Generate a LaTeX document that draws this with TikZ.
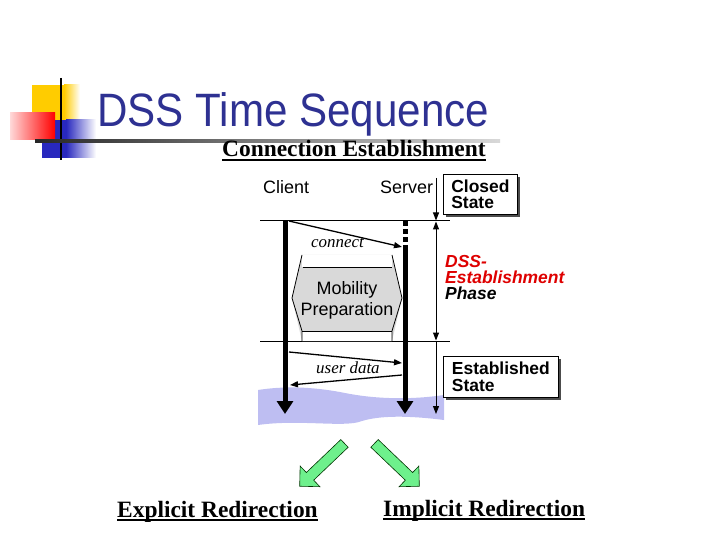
\documentclass[tikz,border=0pt]{standalone}
\usepackage{fontspec}
\setmainfont{Liberation Serif}
\setsansfont{Liberation Sans}
\newfontfamily\titlefont[FakeStretch=0.9]{Liberation Sans}
\usetikzlibrary{arrows.meta,shapes.arrows,shadows}

\definecolor{titleblue}{RGB}{46,49,146}
\definecolor{bandblue}{RGB}{190,190,242}
\definecolor{prepgray}{RGB}{217,217,217}
\definecolor{phasered}{RGB}{222,0,0}
\definecolor{arrowgreen}{RGB}{110,240,140}
\definecolor{logoyellow}{RGB}{255,204,0}
\definecolor{logoblue}{RGB}{40,40,190}

\begin{document}
\begin{tikzpicture}[x=1bp, y=-1bp,
    lbl/.style={inner sep=0pt, anchor=base west, font=\sffamily\fontsize{18}{21}\selectfont},
    msg/.style={inner sep=0pt, anchor=base west, font=\itshape\fontsize{17}{20}\selectfont},
    heading/.style={inner sep=0pt, anchor=base west, font=\bfseries\fontsize{23.5}{26}\selectfont},
    statebox/.style={draw, fill=white, line width=0.8bp, anchor=north west, align=left,
        inner xsep=7bp, inner ysep=0pt, font=\sffamily\bfseries\fontsize{17.5}{16.5}\selectfont,
        drop shadow={shadow xshift=2.5bp, shadow yshift=-2.5bp, fill=black!70, opacity=1}},
    life/.style={line width=5bp, -{Triangle[width=16bp,length=13bp]}},
    msgarrow/.style={line width=1.3bp, -{Triangle[width=6bp,length=8bp]}},
    tline/.style={line width=1bp, >={Triangle[width=6bp,length=8bp]}},
    bigarrow/.style={single arrow, draw=black!80!green, fill=arrowgreen, line width=0.6bp,
        inner sep=5bp, single arrow head extend=9bp, minimum height=62bp}]
    \useasboundingbox (0,0) rectangle (720,540);

    % logo in the corner
    \fill[logoyellow] (32,85) rectangle (64,120);
    \shade[left color=logoyellow, right color=white] (64,85) rectangle (80,120);
    \fill[logoblue] (42,120) rectangle (66,158);
    \shade[left color=logoblue, right color=white] (66,120) rectangle (96,158);
    \shade[left color=red!15, right color=red] (10,113) rectangle (55,140);
    \draw[line width=2bp] (61,78) -- (61,160);
    \shade[left color=black!85, right color=black!15] (35,140) rectangle (500,142.5);

    % title and heading
    \node[inner sep=0pt, anchor=base west, text=titleblue, font=\titlefont\fontsize{47}{50}\selectfont] (title) at (97,127) {DSS Time Sequence};
    \node[heading] (conn) at (222,157) {Connection Establishment};
    \draw[line width=1.5bp] ([yshift=-3bp]conn.base west) -- ([yshift=-3bp]conn.base east);

    % water band behind the lifelines
    \fill[bandblue] (258,390) .. controls (290,385) and (320,388) .. (345,393)
        .. controls (375,399) and (410,400) .. (444,395) -- (444,420)
        .. controls (420,417) and (385,414) .. (362,421)
        .. controls (345,428) and (300,419) .. (258,425) -- cycle;

    % client and server lifelines
    \node[lbl] (client) at (263,194) {Client};
    \node[lbl] (server) at (380,194) {Server};
    \coordinate (ctop) at (285,221);
    \coordinate (cbot) at (285,414);
    \coordinate (stop) at (405,221);
    \coordinate (smid) at (405,246);
    \coordinate (sbot) at (405,414);
    \draw[life] (ctop) -- (cbot);
    \draw[line width=5bp, dash pattern=on 5bp off 3bp] (stop) -- (smid);
    \draw[life] (smid) -- (sbot);

    % phase borders
    \coordinate (b1l) at (260,221);
    \coordinate (b1r) at (450,221);
    \coordinate (b2l) at (260,341);
    \coordinate (b2r) at (450,341);
    \draw[line width=1bp] (b1l) -- (b1r);
    \draw[line width=1bp] (b2l) -- (b2r);

    % connect message
    \coordinate (cc) at (289,221);
    \coordinate (sc) at (402,247);
    \draw[msgarrow] (cc) -- (sc);
    \node[msg] (connect) at (311,248) {connect};

    % mobility preparation
    \fill[prepgray] (302,255) -- (392,255) -- (402,298) -- (392,341) -- (302,341) -- (292,298) -- cycle;
    \fill[white] (302,255) rectangle (392,267);
    \fill[white] (302,331) rectangle (392,341);
    \draw[line width=0.8bp] (302,255) -- (292,298) -- (302,331) -- (302,341);
    \draw[line width=0.8bp] (392,255) -- (402,298) -- (392,331) -- (392,341);
    \draw[line width=0.8bp] (302.5,267) -- (391.5,267);
    \draw[line width=0.8bp] (302,331) -- (392,331);
    \node[lbl, anchor=center, align=center] (prep) at (347,300) {Mobility\\Preparation};

    % user data messages
    \coordinate (cu1) at (289,352);
    \coordinate (su1) at (402,363);
    \coordinate (su2) at (402,375);
    \coordinate (cu2) at (290,385);
    \draw[msgarrow] (cu1) -- (su1);
    \draw[msgarrow] (su2) -- (cu2);
    \node[msg] (udata) at (316,373) {user data};

    % time axis with states
    \coordinate (t0) at (436,178);
    \coordinate (t1) at (436,220.5);
    \coordinate (t2) at (436,221.5);
    \coordinate (t3) at (436,340.5);
    \coordinate (t4) at (436,341.5);
    \coordinate (t5) at (436,414);
    \draw[tline, ->] (t0) -- (t1);
    \draw[tline, <->] (t2) -- (t3);
    \draw[tline, ->] (t4) -- (t5);
    \node[statebox, minimum width=74bp, minimum height=40bp] (closed) at (443,174) {Closed\\State};
    \node[statebox, minimum width=115bp, minimum height=41bp] (estab) at (443,356) {Established\\State};
    \node[inner sep=0pt, anchor=north west, align=left, font=\sffamily\bfseries\itshape\fontsize{17.5}{16}\selectfont] (phase) at (445,255)
        {\textcolor{phasered}{DSS-}\\\textcolor{phasered}{Establishment}\\Phase};

    % redirection arrows
    \node[bigarrow, rotate=223.7] (explarrow) at (324,463) {};
    \node[bigarrow, rotate=-43.7] (implarrow) at (395,463) {};
    \node[heading] (expl) at (117,517) {Explicit Redirection};
    \node[heading] (impl) at (383,516) {Implicit Redirection};
    \draw[line width=1.5bp] ([yshift=-3bp]expl.base west) -- ([yshift=-3bp]expl.base east);
    \draw[line width=1.5bp] ([yshift=-3bp]impl.base west) -- ([yshift=-3bp]impl.base east);
\end{tikzpicture}
\end{document}
